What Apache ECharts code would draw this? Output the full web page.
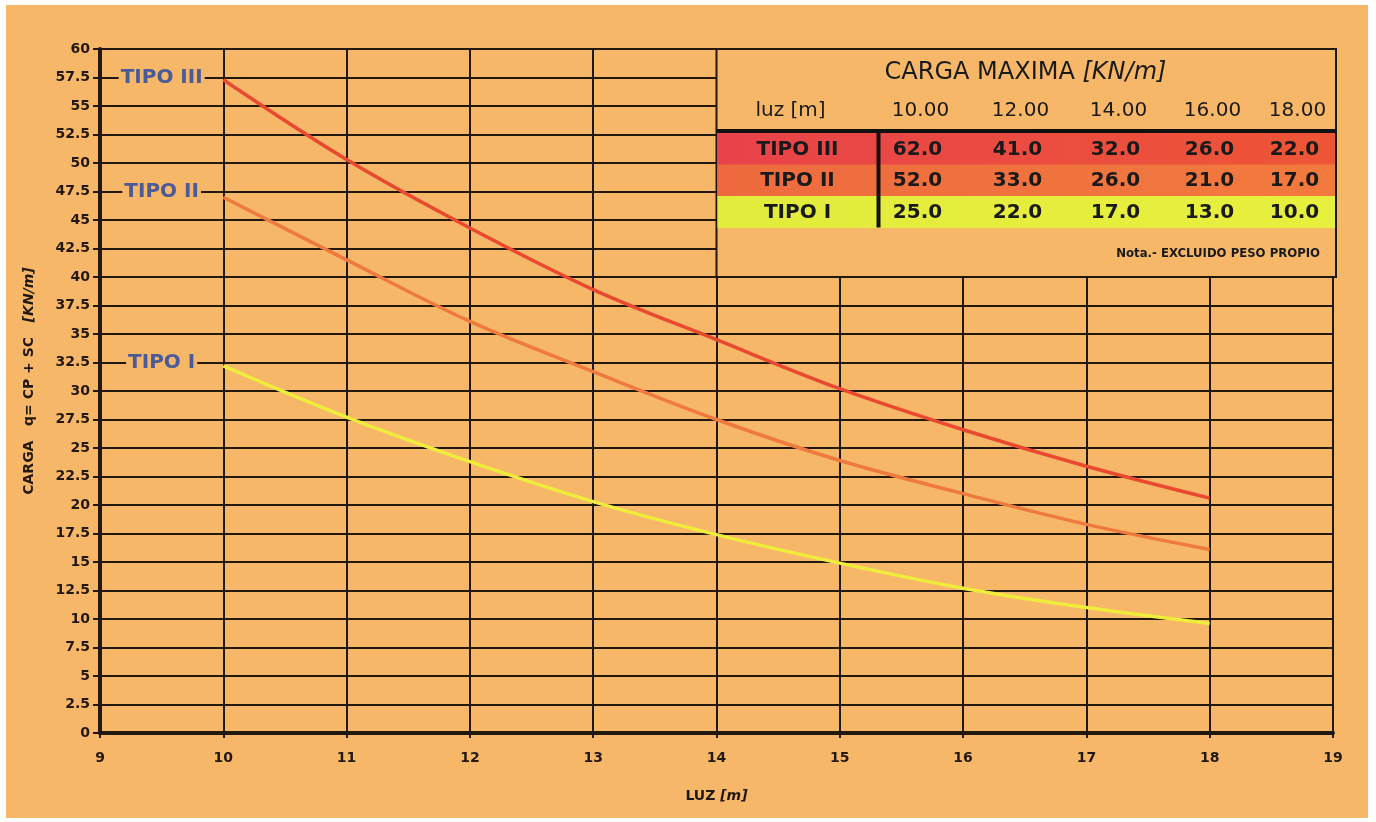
<!DOCTYPE html>
<html>
<head>
<meta charset="utf-8">
<script src="https://cdn.jsdelivr.net/npm/echarts@6/dist/echarts.min.js"></script>
<style>
  html, body { margin:0; padding:0; width:1376px; height:822px; background:#ffffff; overflow:hidden; }
  #bg { position:absolute; left:6px; top:5px; width:1362px; height:813px; background:#F6B768; }
  #chart { position:absolute; left:0; top:0; width:1376px; height:822px; }
</style>
</head>
<body>
<div id="bg"></div>
<div id="chart"></div>
<script>
// ---- data ----
const luz = [10, 11, 12, 13, 14, 15, 16, 17, 18];
const tipo3 = [57.3, 50.3, 44.3, 38.9, 34.5, 30.2, 26.6, 23.4, 20.6];
const tipo2 = [47.0, 41.5, 36.1, 31.7, 27.5, 23.9, 21.0, 18.3, 16.1];
const tipo1 = [32.2, 27.7, 23.8, 20.3, 17.4, 14.9, 12.7, 11.0, 9.6];
const seriesNames = ['TIPO III', 'TIPO II', 'TIPO I'];
const labelAt = [57.5, 47.5, 32.5];

// table
const tableTitle = 'CARGA MAXIMA ';
const tableUnit = '[KN/m]';
const tableHeadLabel = 'luz [m]';
const tableLuz = ['10.00', '12.00', '14.00', '16.00', '18.00'];
const tableRows = ['TIPO III', 'TIPO II', 'TIPO I'];
const tableVals = [
  ['62.0', '41.0', '32.0', '26.0', '22.0'],
  ['52.0', '33.0', '26.0', '21.0', '17.0'],
  ['25.0', '22.0', '17.0', '13.0', '10.0']
];
const tableNote = 'Nota.- EXCLUIDO PESO PROPIO';

const lineColors = ['#E8492F', '#EE7A3E', '#F0EC3C'];
const ORANGE = '#F6B768';
const INK = '#221810';
const WIDE = "'DejaVu Sans', Verdana, sans-serif";
const NARROW = "'DejaVu Sans Condensed', 'Liberation Sans Narrow', Roboto, sans-serif";

const chart = echarts.init(document.getElementById('chart'), null, {renderer: 'canvas'});

function mkSeries(i, vals) {
  return {
    name: seriesNames[i],
    type: 'line',
    data: luz.map((x, k) => [x, vals[k]]),
    smooth: 0.35,
    showSymbol: false,
    lineStyle: { color: lineColors[i], width: 3.5 },
    z: 5,
    markPoint: {
      symbol: 'rect',
      symbolSize: 0,
      data: [{ coord: [9.5, labelAt[i]] }],
      label: {
        show: true,
        position: 'inside',
        formatter: seriesNames[i],
        color: '#4B5B98',
        fontFamily: WIDE,
        fontWeight: 'bold',
        fontSize: 20,
        backgroundColor: ORANGE,
        padding: [1, 2, 0, 2]
      }
    }
  };
}

const axisFont = { fontFamily: WIDE, fontWeight: 'bold', fontSize: 14, color: INK };

const option = {
  backgroundColor: 'transparent',
  animation: false,
  grid: { left: 100, right: 43, top: 49, bottom: 89 },
  xAxis: {
    type: 'value', min: 9, max: 19, interval: 1,
    name: '{a|LUZ }{b|[m]}',
    nameLocation: 'middle', nameGap: 56,
    nameTextStyle: {
      rich: {
        a: { fontFamily: WIDE, fontWeight: 'bold', fontSize: 14, color: INK },
        b: { fontFamily: WIDE, fontWeight: 'bold', fontStyle: 'italic', fontSize: 14, color: INK }
      }
    },
    axisLine: { show: true, onZero: false, lineStyle: { color: INK, width: 4 } },
    axisTick: { show: true, length: 5, lineStyle: { color: INK, width: 2 } },
    axisLabel: Object.assign({ margin: 18 }, axisFont),
    splitLine: { show: true, lineStyle: { color: INK, width: 2 } }
  },
  yAxis: {
    type: 'value', min: 0, max: 60, interval: 2.5,
    name: '{a|CARGA   q= CP + SC   }{b|[KN/m]}',
    nameLocation: 'middle', nameGap: 64,
    nameTextStyle: {
      padding: [0, 0, 0, 20],
      rich: {
        a: { fontFamily: WIDE, fontWeight: 'bold', fontSize: 14, color: INK },
        b: { fontFamily: WIDE, fontWeight: 'bold', fontStyle: 'italic', fontSize: 14, color: INK }
      }
    },
    axisLine: { show: true, onZero: false, lineStyle: { color: INK, width: 4 } },
    axisTick: { show: true, length: 7, lineStyle: { color: INK, width: 2 } },
    axisLabel: Object.assign({ margin: 10 }, axisFont),
    splitLine: { show: true, lineStyle: { color: INK, width: 2 } }
  },
  series: [mkSeries(0, tipo3), mkSeries(1, tipo2), mkSeries(2, tipo1)]
};
chart.setOption(option);

// ---- inset table, anchored to axis coordinates ----
const p0 = chart.convertToPixel({gridIndex: 0}, [14, 60]);
const p1 = chart.convertToPixel({gridIndex: 0}, [19, 40]);
const L = p0[0], T = p0[1], R = p1[0] + 3, B = p1[1];
const W = R - L;
const els = [];
els.push({ type: 'rect', shape: { x: L, y: T, width: W, height: B - T },
  style: { fill: ORANGE, stroke: INK, lineWidth: 2 }, z: 10 });
// title
els.push({ type: 'text', x: L + 309, y: T + 24, z: 12,
  style: { text: '{a|' + tableTitle + '}{b|' + tableUnit + '}', align: 'center', verticalAlign: 'middle',
    rich: { a: { fontFamily: WIDE, fontSize: 24, fill: '#1a1a1a', letterSpacing: 3 },
            b: { fontFamily: WIDE, fontSize: 24, fontStyle: 'italic', fill: '#1a1a1a', letterSpacing: 3 } } } });
// header row
const colX = [204, 304, 402, 496, 581];
const headY = T + 62;
els.push({ type: 'text', x: L + 74, y: headY, z: 12,
  style: { text: tableHeadLabel, align: 'center', verticalAlign: 'middle', fontFamily: WIDE, fontSize: 20, letterSpacing: 3, fill: '#1a1a1a' } });
tableLuz.forEach((t, j) => els.push({ type: 'text', x: L + colX[j], y: headY, z: 12,
  style: { text: t, align: 'center', verticalAlign: 'middle', fontFamily: WIDE, fontSize: 20, letterSpacing: 3, fill: '#1a1a1a' } }));
// rows
const rowTop = T + 84, rowH = 31.5;
const rowFills = [
  new echarts.graphic.LinearGradient(0, 0, 1, 0, [{offset: 0, color: '#E8434A'}, {offset: 1, color: '#EE5536'}]),
  new echarts.graphic.LinearGradient(0, 0, 1, 0, [{offset: 0, color: '#EE6A3E'}, {offset: 1, color: '#F27A3E'}]),
  new echarts.graphic.LinearGradient(0, 0, 1, 0, [{offset: 0, color: '#E2EC3C'}, {offset: 1, color: '#E8F03E'}])
];
tableRows.forEach((name, i) => {
  const y0 = rowTop + i * rowH;
  els.push({ type: 'rect', shape: { x: L + 1, y: y0, width: W - 2, height: rowH + 0.5 }, style: { fill: rowFills[i] }, z: 11 });
  els.push({ type: 'text', x: L + 81, y: y0 + rowH / 2 + 1, z: 12,
    style: { text: name, align: 'center', verticalAlign: 'middle', fontFamily: WIDE, fontWeight: 'bold', fontSize: 20, fill: '#1a1a1a' } });
  tableVals[i].forEach((v, j) => els.push({ type: 'text', x: L + colX[j] - 3, y: y0 + rowH / 2 + 1, z: 12,
    style: { text: v, align: 'center', verticalAlign: 'middle', fontFamily: WIDE, fontWeight: 'bold', fontSize: 20, letterSpacing: 2, fill: '#1a1a1a' } }));
});
// thick rules
els.push({ type: 'line', shape: { x1: L, y1: rowTop - 2, x2: R, y2: rowTop - 2 }, style: { stroke: '#111', lineWidth: 4 }, z: 13 });
els.push({ type: 'line', shape: { x1: L + 162, y1: rowTop - 2, x2: L + 162, y2: rowTop + 3 * rowH }, style: { stroke: '#111', lineWidth: 4 }, z: 13 });
// note
els.push({ type: 'text', x: R - 16, y: T + 205, z: 12,
  style: { text: tableNote, align: 'right', verticalAlign: 'middle', fontFamily: NARROW, fontWeight: 'bold', fontSize: 13, letterSpacing: -0.3, fill: '#1a1a1a' } });

chart.setOption({ graphic: { elements: els } });
</script>
</body>
</html>
